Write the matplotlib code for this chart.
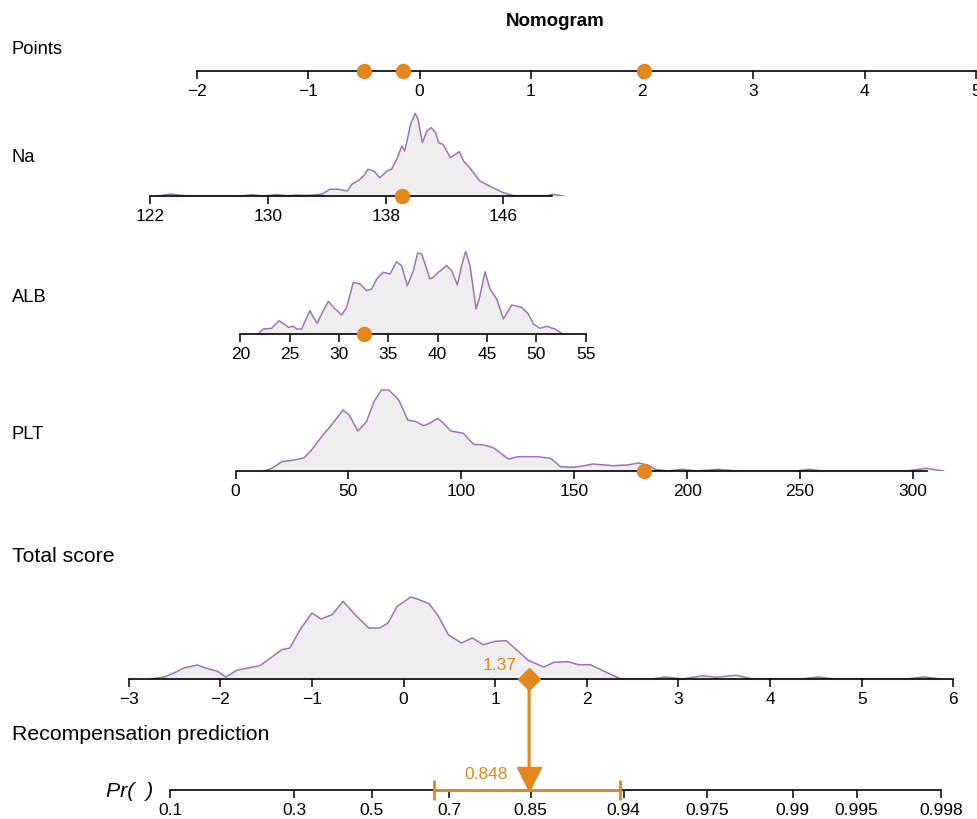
import numpy as np
import matplotlib
matplotlib.use("Agg")
import matplotlib.pyplot as plt
from matplotlib.patches import ConnectionPatch
from matplotlib.ticker import NullLocator
import matplotlib.transforms as mtransforms

plt.rcParams['font.family'] = ['Liberation Sans', 'DejaVu Sans']

# ---------------- data ----------------
title = "Nomogram"
row_labels = ["Points", "Na", "ALB", "PLT"]

points_ticks = [-2, -1, 0, 1, 2, 3, 4, 5]
na_ticks = [122, 130, 138, 146]
alb_ticks = [20, 25, 30, 35, 40, 45, 50, 55]
plt_ticks = [0, 50, 100, 150, 200, 250, 300]
total_ticks = [-3, -2, -1, 0, 1, 2, 3, 4, 5, 6]
pr_ticks = [0.1, 0.3, 0.5, 0.7, 0.85, 0.94, 0.975, 0.99, 0.995, 0.998]
pr_tick_labels = ["0.1", "0.3", "0.5", "0.7", "0.85", "0.94", "0.975", "0.99", "0.995", "0.998"]

# patient values and their point scores
na_value, alb_value, plt_value = 139.1, 32.5, 181.0
point_scores = [-0.15, -0.50, 2.02]   # Na, ALB, PLT
total_score = 1.37
pred_prob = 0.848
pred_ci = (0.664, 0.938)

# data ranges of the axis lines
na_range = (122, 149.3)
alb_range = (20, 55)
plt_range = (0, 306)

# density curves (x value, relative density)
na_x = [122.5, 123.4, 124.5, 128.2, 128.9, 129.6, 130.6, 131.3, 132.0, 132.7, 133.3, 133.7,
        134.2, 134.8, 135.4, 135.7, 136.2, 136.5, 136.8, 137.2, 137.6, 138.1, 138.4, 138.8,
        139.1, 139.3, 139.7, 140.0, 140.2, 140.5, 140.8, 141.1, 141.4, 141.6, 141.9, 142.4,
        143.0, 143.3, 143.8, 144.4, 145.3, 146.0, 146.7, 149.0, 149.3, 150.1]
na_d = [0, 2, 0, 0, 1.3, 0, 1.3, 0.3, 1, 0.6, 1.3, 2,
        6.7, 6.7, 5, 11.7, 16, 20, 26.7, 25, 18.3, 25, 26.7, 38.3,
        50, 45, 71.7, 82.7, 76.7, 53.3, 65, 68.3, 63.3, 53.3, 51.7, 38.3,
        44.3, 35, 26.7, 15, 8.3, 3.3, 0.3, 0.3, 1.7, 0]

alb_x = [21.8, 22.33, 23.18, 23.92, 24.53, 24.86, 25.37, 25.71, 26.22, 26.66, 27.06, 27.4,
         27.8, 28.24, 28.92, 29.43, 30.27, 30.78, 31.45, 32.13, 32.8, 33.31, 33.82, 34.49,
         35.17, 35.84, 36.35, 36.93, 37.53, 37.97, 38.38, 39.22, 39.56, 40.07, 40.91, 41.42,
         41.99, 42.43, 42.84, 43.28, 43.89, 44.29, 44.8, 45.3, 45.98, 46.66, 47.5, 48.51,
         49.19, 49.7, 50.37, 51.05, 51.89, 52.57]
alb_d = [0, 5, 5.7, 13.3, 9.3, 6.7, 7.7, 5, 5, 15, 23.3, 16.7,
         10.7, 20, 32.7, 26.7, 19, 26.7, 51.7, 50, 43.3, 45, 55, 61.7,
         60, 72.3, 68.3, 48.3, 63.3, 81, 80, 55, 56.7, 61.7, 68.3, 63.3,
         49, 68.3, 82.7, 68.3, 25, 38.3, 62.3, 45, 35, 15, 29, 26.7,
         20, 10, 5.7, 7.7, 5, 0.7]

plt_x = [12.8, 16.1, 20.5, 26.0, 30.4, 33.7, 38.1, 42.5, 47.6, 50.3, 54.2, 58.0, 61.3, 64.6,
         67.9, 72.3, 76.3, 80.0, 83.3, 86.0, 89.5, 92.1, 95.4, 100.9, 105.4, 109.8, 114.2,
         117.5, 120.8, 125.2, 134.0, 139.5, 144.0, 149.4, 153.8, 158.3, 167.1, 173.7, 178.5,
         182.5, 185.8, 191.3, 197.9, 204.5, 213.4, 222.2, 248.6, 254.1, 259.6, 297.1, 305.9, 313.6]
plt_d = [0, 2.7, 9.3, 11, 13.3, 21, 34.3, 46, 61, 56, 40, 49.3, 69.3, 81,
         81, 71, 51, 49.3, 45.3, 47.7, 52.7, 47.7, 40, 37.7, 26.7, 26, 23.3,
         17.7, 12, 14.3, 14.3, 12.7, 4.3, 3.7, 5, 7, 5.3, 6, 8,
         6, 1.7, 0, 1.7, 0, 1.7, 0, 0, 1.7, 0, 0, 2.7, 0]

total_x = [-2.77, -2.61, -2.49, -2.40, -2.25, -2.16, -2.03, -1.94, -1.82, -1.70, -1.57, -1.45,
           -1.33, -1.24, -1.13, -1.00, -0.90, -0.78, -0.66, -0.53, -0.38, -0.26, -0.17, -0.07,
           0.08, 0.17, 0.28, 0.38, 0.49, 0.63, 0.75, 0.87, 1.00, 1.12, 1.24, 1.36, 1.53, 1.64,
           1.79, 1.91, 2.04, 2.19, 2.37, 2.71, 2.86, 3.05, 3.26, 3.41, 3.63, 3.81, 4.33, 4.52,
           4.70, 5.49, 5.68, 5.86]
total_d = [0, 2, 6.7, 11, 14, 11, 7.7, 2, 8.7, 11, 13.3, 21,
           29.3, 31, 49.3, 66, 60, 64.3, 77.7, 64.3, 51, 51, 56, 72.7,
           82, 79.3, 75.3, 62.7, 44.3, 36, 41, 34.3, 37.7, 38.3, 28.7, 18.7, 12, 16.7,
           17.3, 14.3, 14.3, 7.7, 0, 0, 2, 0, 3.3, 1.7, 3.7, 0, 0, 2,
           0, 0, 2, 0]

# ---------------- style ----------------
W, H = 978, 820
ORANGE = "#E3861C"
PURPLE = "#9C74B2"
FILL = "#EEEEEE"
TICK_FS = 12.5
LABEL_FS = 13.2
BIG_FS = 15.3

fig = plt.figure(figsize=(W / 100, H / 100), dpi=100)


def row_axes(line_y, height=100):
    ax = fig.add_axes([0, (H - line_y) / H, 1, height / H])
    ax.set_ylim(0, height)
    ax.patch.set_alpha(0)
    for s in ("left", "right", "top"):
        ax.spines[s].set_visible(False)
    ax.set_yticks([])
    ax.spines["bottom"].set_linewidth(1.2)
    ax.tick_params(axis="x", length=6, width=1.1, labelsize=TICK_FS, pad=2.5)
    return ax


def set_map(ax, v0, p0, v1, p1):
    k = (p1 - p0) / (v1 - v0)
    ax.set_xlim(v0 - p0 / k, v0 + (W - p0) / k)


def density(ax, xs, ds):
    ax.fill_between(xs, 0, ds, color=FILL, lw=0, zorder=1)
    ax.plot(xs, ds, color=PURPLE, lw=1.1, zorder=2,
            solid_joinstyle="round", solid_capstyle="round")


def dot(ax, x):
    ax.plot([x], [0], "o", ms=10, color=ORANGE, clip_on=False, zorder=6)


# Points
ax_p = row_axes(72)
set_map(ax_p, -2, 197, 5, 976)
ax_p.set_xticks(points_ticks)
ax_p.spines["bottom"].set_bounds(points_ticks[0], points_ticks[-1])
for s in point_scores:
    dot(ax_p, s)

# Na
ax_na = row_axes(197)
set_map(ax_na, 122, 150.3, 146, 503.3)
density(ax_na, na_x, na_d)
ax_na.set_xticks(na_ticks)
ax_na.spines["bottom"].set_bounds(*na_range)
dot(ax_na, na_value)

# ALB
ax_alb = row_axes(335)
set_map(ax_alb, 20, 240.3, 55, 585.7)
density(ax_alb, alb_x, alb_d)
ax_alb.set_xticks(alb_ticks)
ax_alb.spines["bottom"].set_bounds(*alb_range)
dot(ax_alb, alb_value)

# PLT
ax_plt = row_axes(472)
set_map(ax_plt, 0, 235.5, 300, 913)
density(ax_plt, plt_x, plt_d)
ax_plt.set_xticks(plt_ticks)
ax_plt.spines["bottom"].set_bounds(*plt_range)
dot(ax_plt, plt_value)

# Total score
ax_t = row_axes(680)
set_map(ax_t, -3, 128.7, 6, 953.3)
density(ax_t, total_x, total_d)
ax_t.set_xticks(total_ticks)
ax_t.spines["bottom"].set_bounds(total_ticks[0], total_ticks[-1])
ax_t.plot([total_score], [0], marker="D", ms=11.5, color=ORANGE, clip_on=False, zorder=7)
ax_t.annotate(f"{total_score:.2f}", xy=(total_score, 0), xytext=(-13, 14),
              textcoords="offset pixels", ha="right", va="center",
              color=ORANGE, fontsize=TICK_FS)

# Probability axis (logit scale tied to total score)
ax_pr = row_axes(791, height=40)
ax_pr.set_xscale("logit")
c = np.log(pred_prob / (1 - pred_prob)) - total_score
t_lo, t_hi = ax_t.get_xlim()
sig = lambda z: 1 / (1 + np.exp(-z))
ax_pr.set_xlim(sig(t_lo + c), sig(t_hi + c))
ax_pr.set_xticks(pr_ticks)
ax_pr.set_xticklabels(pr_tick_labels)
ax_pr.xaxis.set_minor_locator(NullLocator())
ax_pr.spines["bottom"].set_bounds(pr_ticks[0], pr_ticks[-1])
ax_pr.plot(list(pred_ci), [0, 0], color=ORANGE, lw=2.2, clip_on=False, zorder=6)
ax_pr.plot(list(pred_ci), [0, 0], ls="none", marker="|", ms=14, mew=2,
           color=ORANGE, clip_on=False, zorder=6)
tri_tr = mtransforms.offset_copy(ax_pr.transData, fig=fig, y=11, units="dots")
ax_pr.plot([pred_prob], [0], marker="v", ms=17, color=ORANGE, transform=tri_tr,
           clip_on=False, zorder=7)
ax_pr.annotate(f"{pred_prob:.3f}", xy=(pred_prob, 0), xytext=(-21, 16),
               textcoords="offset pixels", ha="right", va="center",
               color=ORANGE, fontsize=TICK_FS)
con = ConnectionPatch(xyA=(total_score, 0), coordsA=ax_t.transData,
                      xyB=(pred_prob, 20), coordsB=ax_pr.transData,
                      color=ORANGE, lw=2.2, zorder=5)
fig.add_artist(con)

# Text labels
fig.text(555 / W, 1 - 22 / H, title, ha="center", va="center",
         fontsize=13.5, fontweight="bold")
fig.text(12 / W, 1 - 49 / H, row_labels[0], ha="left", va="center", fontsize=LABEL_FS)
fig.text(12 / W, 1 - 158 / H, row_labels[1], ha="left", va="center", fontsize=LABEL_FS)
fig.text(12 / W, 1 - 297 / H, row_labels[2], ha="left", va="center", fontsize=LABEL_FS)
fig.text(12 / W, 1 - 435 / H, row_labels[3], ha="left", va="center", fontsize=LABEL_FS)
fig.text(12 / W, 1 - 557 / H, "Total score", ha="left", va="center", fontsize=BIG_FS)
fig.text(12 / W, 1 - 735 / H, "Recompensation prediction", ha="left", va="center",
         fontsize=BIG_FS)
fig.text(106 / W, 1 - 792 / H, "Pr(  )", ha="left", va="center", fontsize=BIG_FS,
         style="italic")

fig.savefig("out.png", dpi=100)
